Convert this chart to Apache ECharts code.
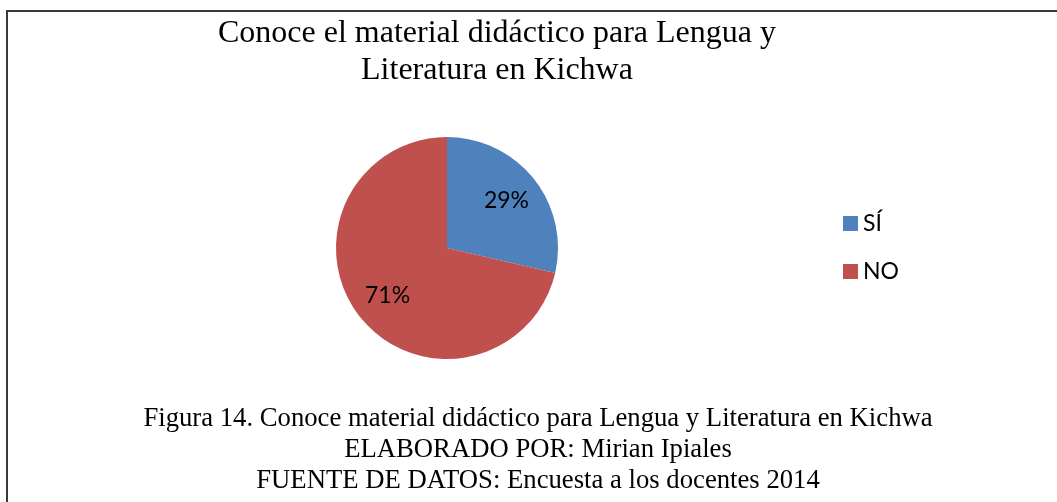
<!DOCTYPE html>
<html>
<head>
<meta charset="utf-8">
<script src="https://cdn.jsdelivr.net/npm/echarts@6/dist/echarts.min.js"></script>
<style>
  html, body { margin: 0; padding: 0; background: #fff; }
  #chart { width: 1057px; height: 502px; }
</style>
</head>
<body>
<div id="chart"></div>
<script>
  // categorias y valores (porcentaje de docentes)
  var categories = ['SÍ', 'NO']
  var values = [28.6, 71.4]
  var colors = ['#4F81BD', '#C0504D']

  var titleText = 'Conoce el material didáctico para Lengua y\nLiteratura en Kichwa'
  var captionLines = [
    'Figura 14. Conoce material didáctico para Lengua y Literatura en Kichwa',
    'ELABORADO POR: Mirian Ipiales',
    'FUENTE DE DATOS: Encuesta a los docentes 2014'
  ]

  var pieData = categories.map(function (name, i) {
    return { name: name, value: values[i], itemStyle: { color: colors[i] } }
  })

  // misma data pero sin relleno, solo para ubicar las etiquetas
  var labelData = categories.map(function (name, i) {
    return { name: name, value: values[i], itemStyle: { color: 'rgba(0,0,0,0)' } }
  })

  var chart = echarts.init(document.getElementById('chart'))
  var option = {
    backgroundColor: '#fff',
    animation: false,
    title: [
      {
        text: titleText,
        left: 492,
        top: 10,
        textAlign: 'center',
        textStyle: {
          fontFamily: 'Liberation Serif',
          fontSize: 32,
          fontWeight: 'normal',
          lineHeight: 37,
          color: '#000'
        }
      },
      {
        text: captionLines.join('\n'),
        left: 533,
        top: 398,
        textAlign: 'center',
        textStyle: {
          fontFamily: 'Liberation Serif',
          fontSize: 26.7,
          fontWeight: 'normal',
          lineHeight: 31,
          color: '#000'
        }
      }
    ],
    legend: {
      orient: 'vertical',
      left: 843,
      top: 212,
      padding: 0,
      itemWidth: 15,
      itemHeight: 15,
      itemGap: 25,
      icon: 'rect',
      selectedMode: false,
      data: categories,
      textStyle: {
        fontFamily: 'Lato',
        fontSize: 23,
        color: '#000'
      }
    },
    graphic: [
      {
        type: 'rect',
        silent: true,
        shape: { x: 7, y: 11, width: 1200, height: 600 },
        style: { fill: 'none', stroke: '#3a3a3a', lineWidth: 2 }
      }
    ],
    series: [
      {
        name: 'material',
        type: 'pie',
        center: [447, 248],
        radius: 111,
        startAngle: 90,
        clockwise: true,
        percentPrecision: 0,
        label: { show: false },
        labelLine: { show: false },
        emphasis: { disabled: true },
        itemStyle: { borderWidth: 0 },
        data: pieData
      },
      {
        name: 'etiquetas',
        type: 'pie',
        center: [447, 248],
        radius: [35, 111],
        startAngle: 90,
        clockwise: true,
        silent: true,
        percentPrecision: 0,
        emphasis: { disabled: true },
        label: {
          show: true,
          position: 'inside',
          formatter: '{d}%',
          fontFamily: 'Lato',
          fontSize: 23,
          color: '#000'
        },
        labelLine: { show: false },
        data: labelData
      }
    ]
  }
  chart.setOption(option)
</script>
</body>
</html>
